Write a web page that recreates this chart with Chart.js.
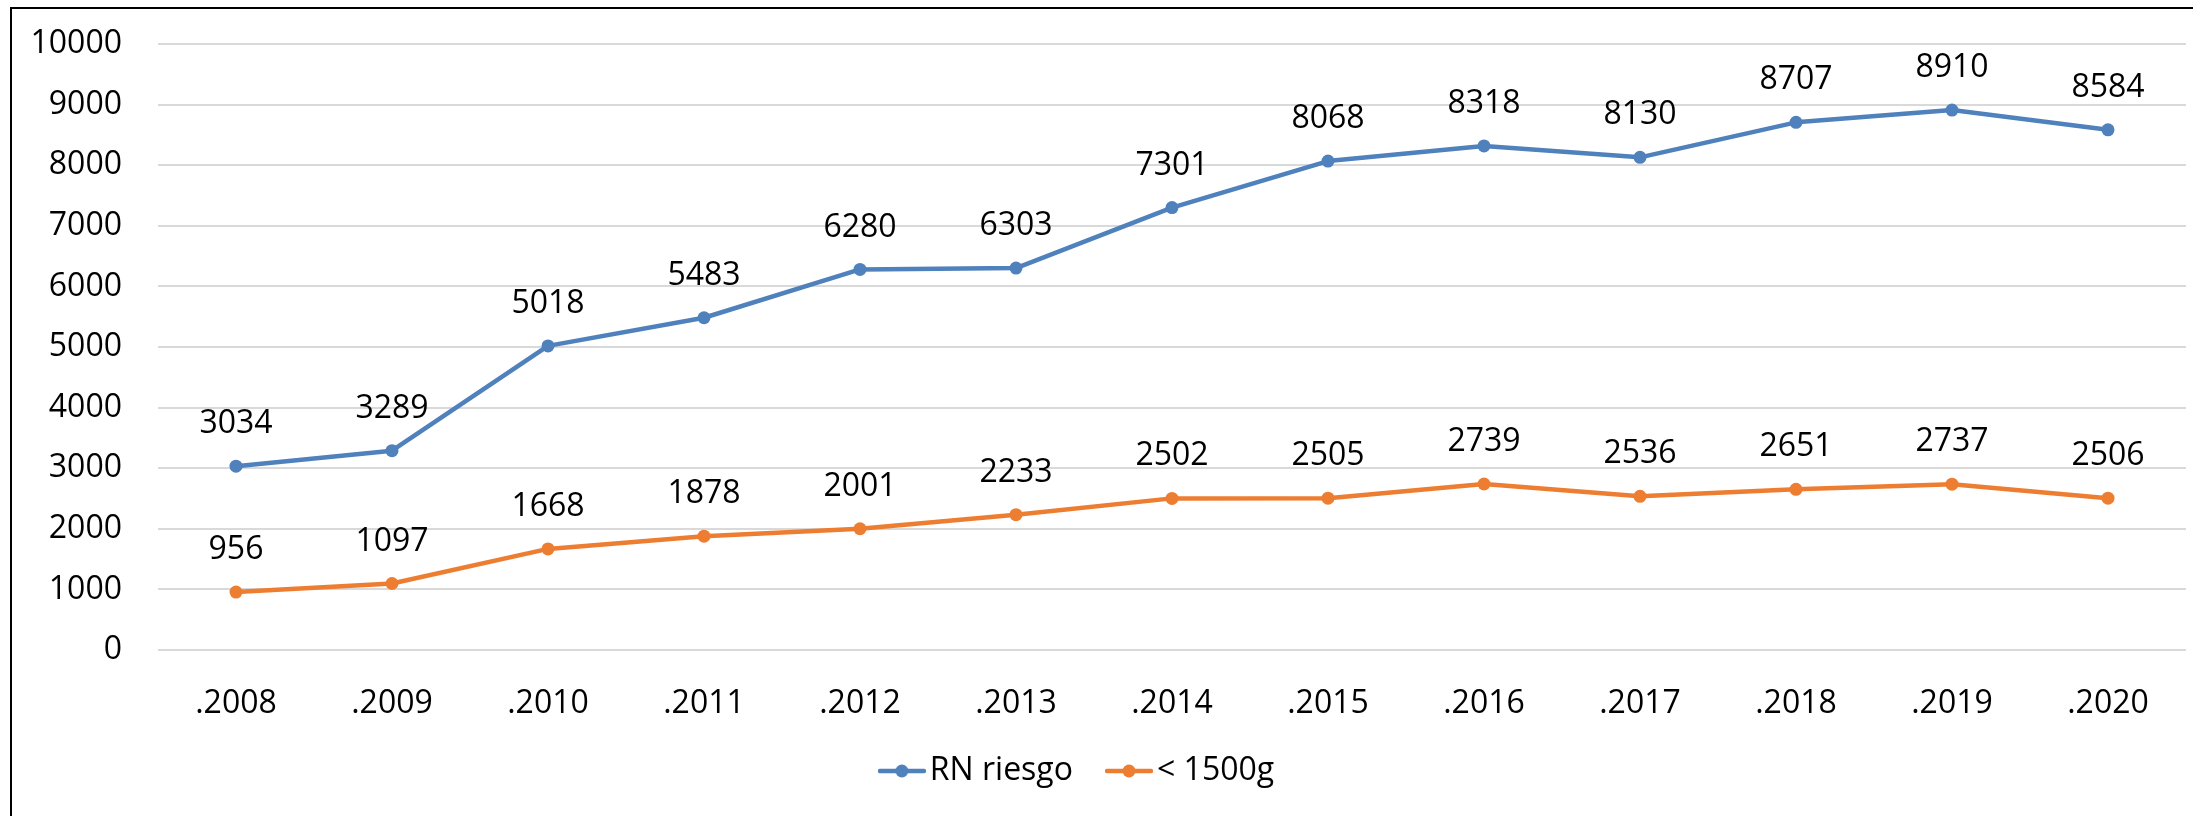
<!DOCTYPE html>
<html>
<head>
<meta charset="utf-8">
<script src="https://cdn.jsdelivr.net/npm/chart.js@4/dist/chart.umd.min.js"></script>
<style>
  html, body { margin: 0; padding: 0; background: #fff; overflow: hidden; }
  #wrap { position: relative; width: 2193px; height: 816px; }
  #frame { position: absolute; left: 10px; top: 7px; width: 2300px; height: 900px; border: 2px solid #000; box-sizing: border-box; }
  canvas { position: absolute; left: 0; top: 0; }
</style>
</head>
<body>
<div id="wrap">
  <div id="frame"></div>
  <canvas id="c" width="2193" height="816"></canvas>
</div>
<script>
const categories = ['.2008', '.2009', '.2010', '.2011', '.2012', '.2013', '.2014', '.2015', '.2016', '.2017', '.2018', '.2019', '.2020'];
const rnRiesgo = [3034, 3289, 5018, 5483, 6280, 6303, 7301, 8068, 8318, 8130, 8707, 8910, 8584];
const menos1500 = [956, 1097, 1668, 1878, 2001, 2233, 2502, 2505, 2739, 2536, 2651, 2737, 2506];
const seriesNames = ['RN riesgo', '< 1500g'];
const yTicks = [0, 1000, 2000, 3000, 4000, 5000, 6000, 7000, 8000, 9000, 10000];

const BLUE = '#4F81BD';
const ORANGE = '#ED7D31';
const FONT = '"Open Sans", sans-serif';
const FS = 32;

function legendIcon(color) {
  const cv = document.createElement('canvas');
  cv.width = 48; cv.height = 16;
  const g = cv.getContext('2d');
  g.strokeStyle = color; g.lineWidth = 4.5; g.lineCap = 'round';
  g.beginPath(); g.moveTo(2, 8); g.lineTo(46, 8); g.stroke();
  g.fillStyle = color; g.beginPath(); g.arc(24, 8, 6.5, 0, Math.PI * 2); g.fill();
  return cv;
}
const icons = [legendIcon(BLUE), legendIcon(ORANGE)];

const dataLabels = {
  id: 'dataLabels',
  afterLayout(chart) {
    const L = chart.legend;
    if (L) { L.left -= 11; L.right -= 11; L.top -= 19; L.bottom -= 19; }
  },
  afterDatasetsDraw(chart) {
    const ctx = chart.ctx;
    ctx.save();
    ctx.font = FS + 'px ' + FONT;
    ctx.fillStyle = '#000';
    ctx.textAlign = 'center';
    ctx.textBaseline = 'middle';
    chart.data.datasets.forEach((ds, i) => {
      chart.getDatasetMeta(i).data.forEach((el, j) => {
        ctx.fillText(String(ds.data[j]), el.x, el.y - 42);
      });
    });
    ctx.restore();
  }
};

const chart = new Chart(document.getElementById('c'), {
  type: 'line',
  data: {
    labels: categories,
    datasets: [
      { label: seriesNames[0], data: rnRiesgo, borderColor: BLUE, backgroundColor: BLUE, pointBackgroundColor: BLUE },
      { label: seriesNames[1], data: menos1500, borderColor: ORANGE, backgroundColor: ORANGE, pointBackgroundColor: ORANGE }
    ]
  },
  options: {
    responsive: false,
    animation: false,
    devicePixelRatio: 1,
    elements: {
      line: { tension: 0, borderWidth: 4.5, borderCapStyle: 'round', borderJoinStyle: 'round' },
      point: { pointStyle: 'circle', radius: 6.5, borderWidth: 0, hoverRadius: 6.5 }
    },
    layout: { padding: { left: 0, right: 7, top: 44, bottom: 0 } },
    scales: {
      x: {
        offset: true,
        afterFit(s) { s.height = 80; },
        grid: { display: false, drawTicks: false, offset: true },
        border: { display: false },
        ticks: { color: '#000', font: { family: FONT, size: FS }, padding: 35, maxRotation: 0 }
      },
      y: {
        min: 0, max: 10000,
        afterFit(s) { s.width = 158; s.paddingTop = 0; s.paddingBottom = 0; },
        afterBuildTicks(s) { s.ticks = yTicks.map(v => ({ value: v })); },
        grid: { color: '#d9d9d9', lineWidth: 2, drawTicks: false },
        border: { display: false },
        ticks: { color: '#000', font: { family: FONT, size: FS }, padding: 36, callback: v => String(v) }
      }
    },
    plugins: {
      tooltip: { enabled: false },
      legend: {
        position: 'bottom',
        labels: {
          color: '#000',
          font: { family: FONT, size: FS },
          usePointStyle: true,
          pointStyleWidth: 24,
          padding: 44,
          generateLabels(chart) {
            return chart.data.datasets.map((ds, i) => ({
              text: ds.label, pointStyle: icons[i], fillStyle: ds.borderColor,
              strokeStyle: ds.borderColor, lineWidth: 0, datasetIndex: i, hidden: false, fontColor: '#000'
            }));
          }
        }
      }
    }
  },
  plugins: [dataLabels]
});
</script>
</body>
</html>
